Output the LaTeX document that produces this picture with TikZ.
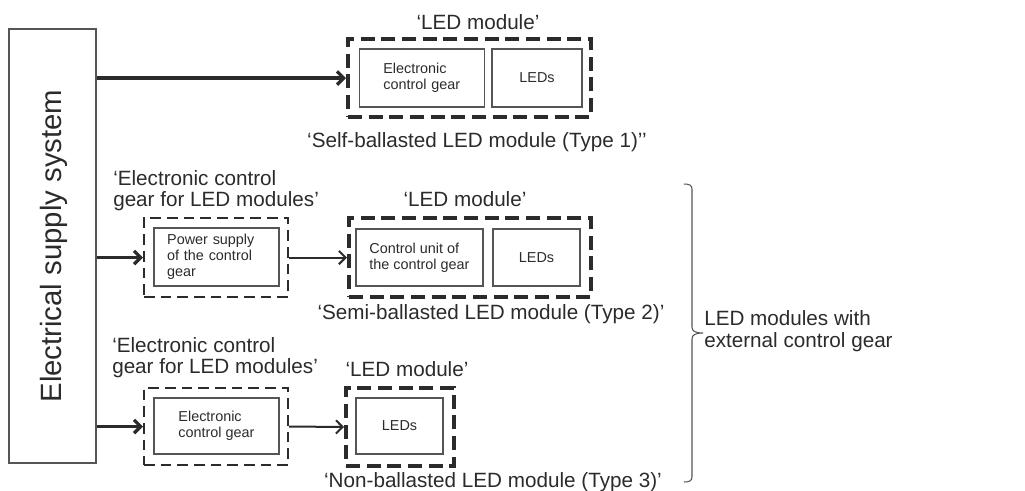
\documentclass[tikz,border=0pt]{standalone}
\usepackage{fontspec}
\setmainfont{Liberation Sans}
\usetikzlibrary{fit,arrows.meta}
\definecolor{ink}{HTML}{2B2B2B}
\definecolor{boxgray}{HTML}{555555}
\begin{document}
\begin{tikzpicture}[x=0.75pt,y=-0.75pt,
  every node/.style={text=ink,font=\fontsize{15.5}{16}\selectfont},
  modbox/.style={draw=ink,line width=3pt,dash pattern=on 10.5pt off 5pt,inner sep=0pt},
  gearbox/.style={draw=ink,line width=1.5pt,dash pattern=on 8pt off 4.5pt,inner sep=0pt},
  ibox/.style={draw=boxgray,line width=0.8pt,inner sep=0pt,font=\fontsize{10.8}{12}\selectfont},
  feed/.style={draw=ink,line width=2.5pt,-{Straight Barb[length=5pt,width=10pt]}},
  link/.style={draw=ink,line width=1.5pt,-{Straight Barb[length=5pt,width=10pt]}}]
\useasboundingbox (0,0) rectangle (1025,490);
% supply
\node[draw=boxgray,line width=1pt,inner sep=0pt,fit={(9,29) (96,463)}] (supply) {};
\node[rotate=90,font=\fontsize{22}{24}\selectfont] (supplytxt) at (54,246) {Electrical supply system};
% Type 1
\node[modbox,fit={(348,39) (591,117)}] (mod1) {};
\node[ibox,minimum width=93.75pt,minimum height=43.5pt,text width=58pt,align=left] (ecg1) at (422,78) {Electronic\\control gear};
\node[ibox,minimum width=67.5pt,minimum height=43.5pt] (led1) at (537,78) {LEDs};
\node[anchor=base] (lm1) at (478,29) {‘LED module’};
\node[anchor=base] (t1) at (477,147) {‘Self-ballasted LED module (Type 1)’’};
% Type 2
\node[anchor=north west,inner sep=0pt,align=left] (ecgl2) at (113,170) {‘Electronic control\\gear for LED modules’};
\node[gearbox,fit={(144,218) (288,297)}] (pwr2) {};
\node[ibox,minimum width=93.75pt,minimum height=43.5pt,text width=74pt,align=left] (ps2) at (216.5,257) {Power supply\\of the control\\gear};
\node[modbox,fit={(349,218) (591,297)}] (mod2) {};
\node[ibox,minimum width=95.25pt,minimum height=42.75pt,align=left] (cu2) at (419.5,257.5) {Control unit of\\the control gear};
\node[ibox,minimum width=65.25pt,minimum height=42.75pt] (led2) at (536.5,257.5) {LEDs};
\node[anchor=base] (lm2) at (465,206) {‘LED module’};
\node[anchor=base] (t2) at (491,319) {‘Semi-ballasted LED module (Type 2)’};
% Type 3
\node[anchor=north west,inner sep=0pt,align=left] (ecgl3) at (112,337) {‘Electronic control\\gear for LED modules’};
\node[gearbox,fit={(144,388) (288,465)}] (pwr3) {};
\node[ibox,minimum width=93.75pt,minimum height=42pt,align=left] (ecg3) at (216.5,426) {Electronic\\control gear};
\node[modbox,fit={(346,388) (454,466)}] (mod3) {};
\node[ibox,minimum width=65.25pt,minimum height=42pt] (led3) at (399.5,426) {LEDs};
\node[anchor=base] (lm3) at (407,376) {‘LED module’};
\node[anchor=base] (t3) at (493,487) {‘Non-ballasted LED module (Type 3)’};
% arrows
\draw[feed] (supply.east |- mod1.west) -- (mod1.west);
\draw[feed] (supply.east |- pwr2.west) -- (pwr2.west);
\draw[feed] (supply.east |- pwr3.west) -- (pwr3.west);
\draw[link] (pwr2.east) -- (mod2.west);
\draw[link] (pwr3.east) -- (mod3.west);
% brace
\coordinate (brtop) at (684,184);
\coordinate (brtip) at (703,333);
\coordinate (brbot) at (684,482);
\draw[boxgray,line width=0.8pt] (brtop) .. controls (689,184) and (692,185) .. (692,189)
  -- (692,327) .. controls (692,331) and (695,333) .. (brtip)
  .. controls (695,333) and (692,335) .. (692,339)
  -- (692,477) .. controls (692,481) and (689,482) .. (brbot);
\node[anchor=north west,inner sep=0pt,align=left,font=\fontsize{15.5}{16.5}\selectfont] (ext) at (704,310) {LED modules with\\external control gear};
\end{tikzpicture}
\end{document}
